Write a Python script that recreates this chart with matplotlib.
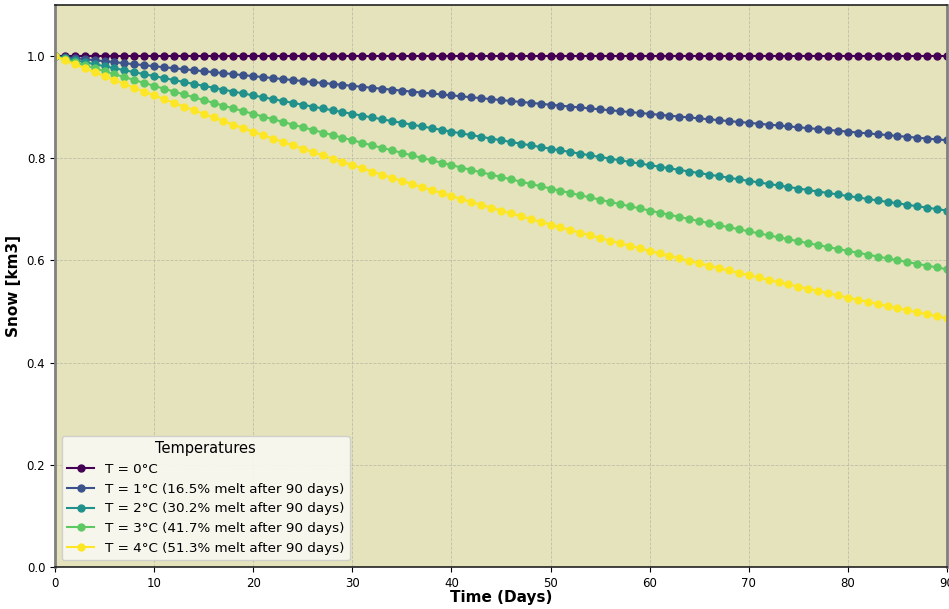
import matplotlib
matplotlib.use("Agg")
import matplotlib.pyplot as plt

days = list(range(0, 91))

snow_t0 = [1.0] * 91

snow_t1 = [1.0000, 0.9980, 0.9960, 0.9940, 0.9920, 0.9901, 0.9881, 0.9861, 0.9841, 0.9822,
           0.9802, 0.9782, 0.9763, 0.9743, 0.9724, 0.9704, 0.9685, 0.9666, 0.9646, 0.9627,
           0.9608, 0.9589, 0.9570, 0.9550, 0.9531, 0.9512, 0.9493, 0.9474, 0.9455, 0.9437,
           0.9418, 0.9399, 0.9380, 0.9361, 0.9343, 0.9324, 0.9305, 0.9287, 0.9268, 0.9250,
           0.9231, 0.9213, 0.9194, 0.9176, 0.9158, 0.9139, 0.9121, 0.9103, 0.9085, 0.9066,
           0.9048, 0.9030, 0.9012, 0.8994, 0.8976, 0.8958, 0.8940, 0.8923, 0.8905, 0.8887,
           0.8869, 0.8851, 0.8834, 0.8816, 0.8799, 0.8781, 0.8763, 0.8746, 0.8728, 0.8711,
           0.8694, 0.8676, 0.8659, 0.8642, 0.8624, 0.8607, 0.8590, 0.8573, 0.8556, 0.8539,
           0.8521, 0.8504, 0.8487, 0.8470, 0.8454, 0.8437, 0.8420, 0.8403, 0.8386, 0.8369,
           0.8353]

snow_t2 = [1.0000, 0.9960, 0.9920, 0.9881, 0.9841, 0.9802, 0.9763, 0.9724, 0.9685, 0.9646,
           0.9608, 0.9570, 0.9531, 0.9493, 0.9455, 0.9418, 0.9380, 0.9343, 0.9305, 0.9268,
           0.9231, 0.9194, 0.9158, 0.9121, 0.9085, 0.9048, 0.9012, 0.8976, 0.8940, 0.8905,
           0.8869, 0.8834, 0.8799, 0.8763, 0.8728, 0.8694, 0.8659, 0.8624, 0.8590, 0.8556,
           0.8521, 0.8487, 0.8454, 0.8420, 0.8386, 0.8353, 0.8319, 0.8286, 0.8253, 0.8220,
           0.8187, 0.8155, 0.8122, 0.8090, 0.8057, 0.8025, 0.7993, 0.7961, 0.7929, 0.7898,
           0.7866, 0.7835, 0.7804, 0.7772, 0.7741, 0.7711, 0.7680, 0.7649, 0.7619, 0.7588,
           0.7558, 0.7528, 0.7498, 0.7468, 0.7438, 0.7408, 0.7379, 0.7349, 0.7320, 0.7291,
           0.7261, 0.7233, 0.7204, 0.7175, 0.7146, 0.7118, 0.7089, 0.7061, 0.7033, 0.7005,
           0.6977]

snow_t3 = [1.0000, 0.9940, 0.9881, 0.9822, 0.9763, 0.9704, 0.9646, 0.9589, 0.9531, 0.9474,
           0.9418, 0.9361, 0.9305, 0.9250, 0.9194, 0.9139, 0.9085, 0.9030, 0.8976, 0.8923,
           0.8869, 0.8816, 0.8763, 0.8711, 0.8659, 0.8607, 0.8556, 0.8504, 0.8454, 0.8403,
           0.8353, 0.8303, 0.8253, 0.8204, 0.8155, 0.8106, 0.8057, 0.8009, 0.7961, 0.7914,
           0.7866, 0.7819, 0.7772, 0.7726, 0.7680, 0.7634, 0.7588, 0.7543, 0.7498, 0.7453,
           0.7408, 0.7364, 0.7320, 0.7276, 0.7233, 0.7189, 0.7146, 0.7103, 0.7061, 0.7019,
           0.6977, 0.6935, 0.6894, 0.6852, 0.6811, 0.6771, 0.6730, 0.6690, 0.6650, 0.6610,
           0.6570, 0.6531, 0.6492, 0.6453, 0.6415, 0.6376, 0.6338, 0.6300, 0.6263, 0.6225,
           0.6188, 0.6151, 0.6114, 0.6077, 0.6041, 0.6005, 0.5969, 0.5933, 0.5898, 0.5863,
           0.5827]

snow_t4 = [1.0000, 0.9920, 0.9841, 0.9763, 0.9685, 0.9608, 0.9531, 0.9455, 0.9380, 0.9305,
           0.9231, 0.9158, 0.9085, 0.9012, 0.8940, 0.8869, 0.8799, 0.8728, 0.8659, 0.8590,
           0.8521, 0.8454, 0.8386, 0.8319, 0.8253, 0.8187, 0.8122, 0.8057, 0.7993, 0.7929,
           0.7866, 0.7804, 0.7741, 0.7680, 0.7619, 0.7558, 0.7498, 0.7438, 0.7379, 0.7320,
           0.7261, 0.7204, 0.7146, 0.7089, 0.7033, 0.6977, 0.6921, 0.6866, 0.6811, 0.6757,
           0.6703, 0.6650, 0.6597, 0.6544, 0.6492, 0.6440, 0.6389, 0.6338, 0.6288, 0.6238,
           0.6188, 0.6139, 0.6090, 0.6041, 0.5993, 0.5945, 0.5898, 0.5851, 0.5804, 0.5758,
           0.5712, 0.5667, 0.5621, 0.5577, 0.5532, 0.5488, 0.5444, 0.5401, 0.5358, 0.5315,
           0.5273, 0.5231, 0.5189, 0.5148, 0.5107, 0.5066, 0.5026, 0.4986, 0.4946, 0.4907,
           0.4868]

series = [snow_t0, snow_t1, snow_t2, snow_t3, snow_t4]
labels = ["T = 0°C",
          "T = 1°C (16.5% melt after 90 days)",
          "T = 2°C (30.2% melt after 90 days)",
          "T = 3°C (41.7% melt after 90 days)",
          "T = 4°C (51.3% melt after 90 days)"]
colors = ["#440154", "#3b528b", "#21918c", "#5ec962", "#fde725"]

fig = plt.figure(figsize=(9.49, 6.09), dpi=100)
ax = fig.add_axes([55 / 949, 42 / 609, 892 / 949, 562 / 609])
ax.set_facecolor("#e5e3bb")

for y, lab, c in zip(series, labels, colors):
    ax.plot(days, y, marker="o", markersize=5, linewidth=1.5, color=c, label=lab)

ax.set_xlim(0, 90)
ax.set_ylim(0, 1.1)
ax.set_xticks(range(0, 91, 10))
ax.set_yticks([0.0, 0.2, 0.4, 0.6, 0.8, 1.0])
ax.tick_params(labelsize=8.5, length=3.5)
ax.grid(True, linestyle="--", linewidth=0.6, color="#b5b5a5", alpha=0.8)
ax.set_xlabel("Time (Days)", fontsize=11, fontweight="bold", labelpad=0)
ax.set_ylabel("Snow [km3]", fontsize=11, fontweight="bold", labelpad=4)

for side in ["left", "right"]:
    ax.spines[side].set_color("#808080")
    ax.spines[side].set_linewidth(2)
for side in ["top", "bottom"]:
    ax.spines[side].set_color("#222222")
    ax.spines[side].set_linewidth(1.2)

leg = ax.legend(title="Temperatures", loc="lower left", fontsize=9.7,
                title_fontsize=10.5, frameon=True, fancybox=True,
                borderaxespad=0.5)
leg.get_frame().set_facecolor("#faf9f3")
leg.get_frame().set_alpha(0.9)

fig.text(765 / 949, 1 + 3.5 / 609, "Snow Melt Over Time at Different Temperatures [km3]",
         ha="right", va="baseline", fontsize=16, fontweight="bold", color="#a3a27a")

fig.savefig("out.png", dpi=100)
